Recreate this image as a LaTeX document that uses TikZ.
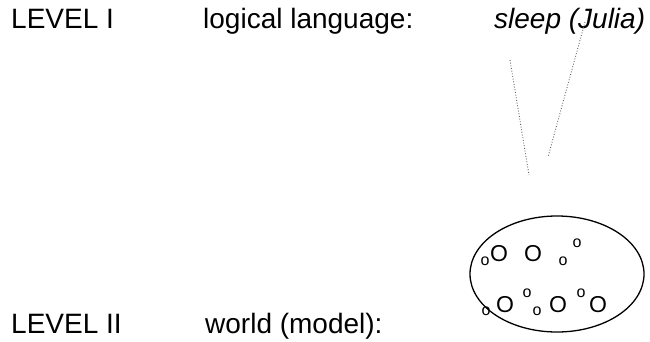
\documentclass[tikz,border=0pt]{standalone}
\usepackage{fontspec}
\setmainfont{Liberation Sans}
\usepackage{tikz}
\usetikzlibrary{shapes.geometric}

\tikzset{
  lbl/.style={anchor=base west,inner sep=0pt,font=\fontsize{28}{30}\selectfont},
  bigo/.style={inner sep=0pt,font=\fontsize{23}{24}\selectfont},
  smallo/.style={inner sep=0pt,font=\fontsize{16}{17}\selectfont},
  link/.style={color=gray!80!black,line width=0.9pt,dash pattern=on 0.9pt off 1.8pt}
}

\begin{document}
\begin{tikzpicture}[x=1pt,y=-1pt]
		\useasboundingbox (0,0) rectangle (650,341);
		% level I
		\node[lbl] (levone) at (11,28) {LEVEL I};
		\node[lbl] (lang) at (203,28) {logical language:};
		\node[lbl] (formula) at (494,28) {\itshape sleep (Julia)};
		% level II
		\node[lbl] (levtwo) at (11,333) {LEVEL II};
		\node[lbl] (world) at (205,333) {world (model):};
		\node[draw,ellipse,line width=1.3pt,minimum width=174pt,minimum height=116pt] (model) at (557,274) {};
		\begin{scope}
		\foreach \x/\y [count=\i] in {499/254,533/254,505/305,558/305,598/305}
			\node[bigo] (big\i) at (\x,\y) {O};
		\foreach \x/\y [count=\i] in {485/261,563/261,577/243,486/311,527/293,537/311,581/293}
			\node[smallo] (small\i) at (\x,\y) {o};
		\end{scope}
		% dotted links
		\coordinate (pred) at (510,60);
		\coordinate (predend) at (529,175);
		\coordinate (arg) at (585,22);
		\coordinate (argend) at (548,157);
		\draw[link] (pred) -- (predend);
		\draw[link] (arg) -- (argend);
		%\draw[link] (formula) -- (model);
\end{tikzpicture}
\end{document}
